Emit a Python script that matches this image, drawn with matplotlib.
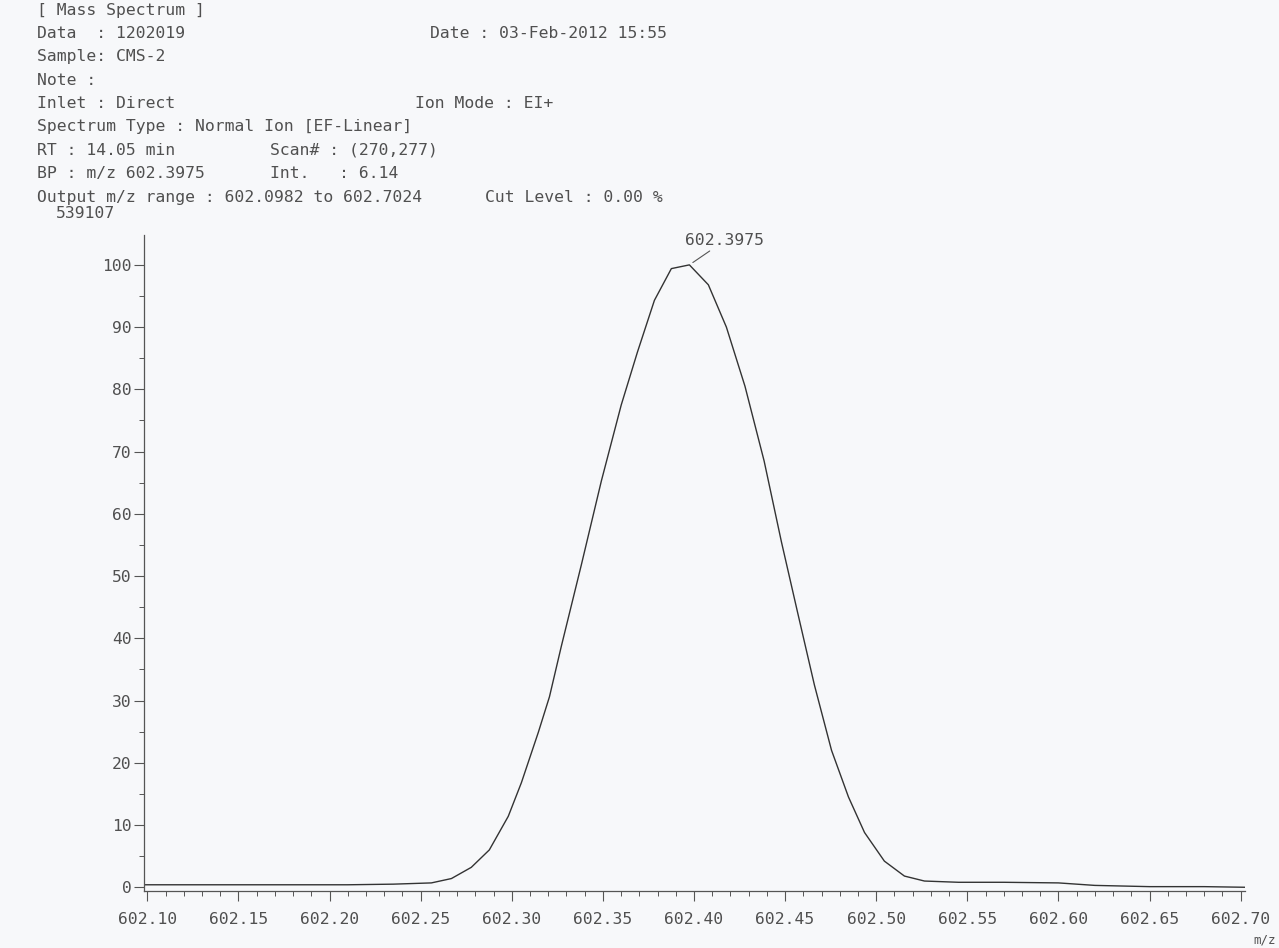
import matplotlib.pyplot as plt
from matplotlib.ticker import MultipleLocator, FormatStrFormatter

# profile of the base peak (relative intensity, %)
mz = [602.0982, 602.12, 602.15, 602.18, 602.21, 602.235, 602.2559, 602.2669,
      602.2778, 602.2877, 602.2981, 602.3053, 602.3146, 602.3207, 602.3272,
      602.3382, 602.3492, 602.3601, 602.3690, 602.3783, 602.3876,
      602.3975, 602.4079, 602.4178, 602.4280, 602.4385, 602.4480, 602.4570,
      602.4661, 602.4755, 602.4848, 602.4936, 602.5045,
      602.5155, 602.5265, 602.5452, 602.57, 602.60, 602.62, 602.65, 602.68,
      602.7024]
intensity = [0.4, 0.4, 0.4, 0.4, 0.4, 0.5, 0.7, 1.4,
             3.2, 6.0, 11.4, 16.8, 24.9, 30.6, 38.7,
             51.8, 65.3, 77.5, 86.0, 94.3, 99.4,
             100.0, 96.8, 90.0, 80.5, 68.5, 55.5, 44.0,
             32.5, 22.0, 14.5, 8.8, 4.2,
             1.8, 1.0, 0.8, 0.8, 0.7, 0.3, 0.1, 0.1,
             0.0]

peak_mz = 602.3975
peak_int = 100.0
base_abs = "539107"
mz_min, mz_max = 602.0982, 602.7024

header_left = [
    "[ Mass Spectrum ]",
    "Data  : 1202019",
    "Sample: CMS-2",
    "Note :",
    "Inlet : Direct",
    "Spectrum Type : Normal Ion [EF-Linear]",
    "RT : 14.05 min",
    "BP : m/z 602.3975",
    "Output m/z range : 602.0982 to 602.7024",
]
header_right = [
    (1, 430, "Date : 03-Feb-2012 15:55"),
    (4, 415, "Ion Mode : EI+"),
    (6, 270, "Scan# : (270,277)"),
    (7, 270, "Int.   : 6.14"),
    (8, 485, "Cut Level : 0.00 %"),
]

W, H = 1279, 948
ink = "#505050"
fs = 11.8
plt.rcParams['font.family'] = 'DejaVu Sans Mono'
plt.rcParams['font.size'] = fs

fig = plt.figure(figsize=(W / 100, H / 100), dpi=100, facecolor="#f7f8fa")


def px(x, y):
    return x / W, 1 - y / H


# header block
line_gap = 23.4
for i, line in enumerate(header_left):
    fig.text(*px(37, 10 + i * line_gap), line, color=ink, va="center", ha="left")
for row, xpos, line in header_right:
    fig.text(*px(xpos, 10 + row * line_gap), line, color=ink, va="center", ha="left")
fig.text(*px(115, 214), base_abs, color=ink, va="center", ha="right")

ax = fig.add_axes([144 / W, (H - 891) / H, (1245 - 144) / W, (891 - 235) / H])
ax.set_facecolor("#f7f8fa")
ax.plot(mz, intensity, color="#333333", lw=1.0)

ax.set_xlim(mz_min, mz_max)
ax.set_ylim(-0.6, 104.8)

for s in ("top", "right"):
    ax.spines[s].set_visible(False)
for s in ("left", "bottom"):
    ax.spines[s].set_color("#555555")
    ax.spines[s].set_linewidth(0.9)

ax.xaxis.set_major_locator(MultipleLocator(0.05))
ax.xaxis.set_minor_locator(MultipleLocator(0.01))
ax.xaxis.set_major_formatter(FormatStrFormatter("%.2f"))
ax.yaxis.set_major_locator(MultipleLocator(10))
ax.yaxis.set_minor_locator(MultipleLocator(5))
ax.tick_params(which="major", length=7, width=0.8, color="#555555",
               labelcolor=ink, labelsize=fs)
ax.tick_params(which="minor", length=3.5, width=0.7, color="#555555")
ax.tick_params(axis="x", which="major", pad=8)
ax.tick_params(axis="y", which="major", pad=2)

# base peak label
ax.annotate(f"{peak_mz:.4f}", xy=(peak_mz, peak_int), xytext=(-3, 12),
            textcoords="offset points", ha="left", va="bottom",
            color=ink, fontsize=fs,
            arrowprops=dict(arrowstyle="-", color="#555555", lw=0.8,
                            shrinkA=0, shrinkB=3))

fig.text(*px(1265, 940), "m/z", color=ink, fontsize=9, ha="center", va="center")

fig.savefig("out.png", dpi=100, facecolor=fig.get_facecolor())
